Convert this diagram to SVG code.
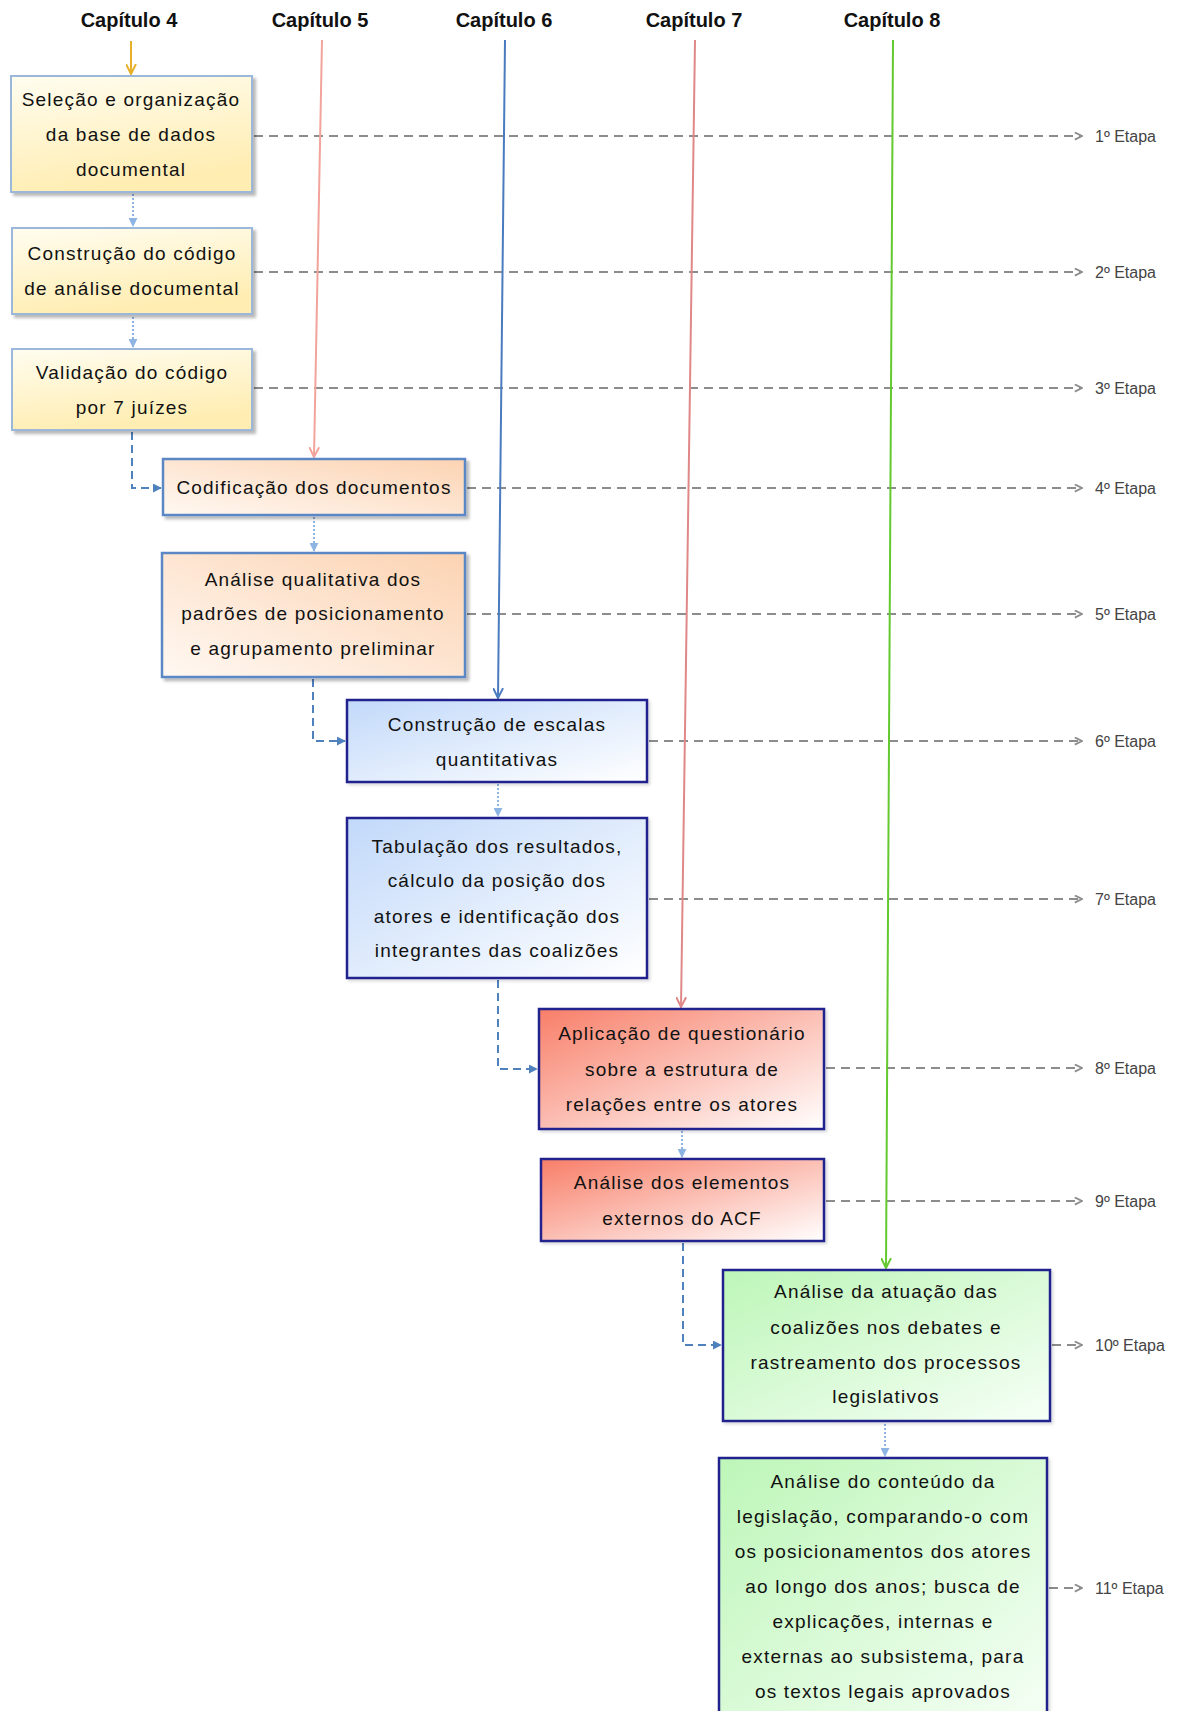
<svg xmlns="http://www.w3.org/2000/svg" width="1179" height="1711" viewBox="0 0 1179 1711">
  <style>
    .hdr { font-family: "Liberation Sans", Arial, sans-serif; font-size: 20px; font-weight: bold; fill: #111; text-anchor: middle; }
    .lbl { font-family: "Liberation Sans", Arial, sans-serif; font-size: 19px; letter-spacing: 1.2px; fill: #111; text-anchor: middle; }
    .etp { font-family: "Liberation Sans", Arial, sans-serif; font-size: 16px; fill: #444; }
    .box-y { fill: url(#gYellow); stroke: #9BB7DA; stroke-width: 2; filter: url(#shadow); }
    .box-p { fill: url(#gPeach); stroke: #5B87C5; stroke-width: 2.5; filter: url(#shadow); }
    .box-b { fill: url(#gBlue); stroke: #22248E; stroke-width: 2.5; filter: url(#shadowLight); }
    .box-r { fill: url(#gRed); stroke: #22248E; stroke-width: 2.5; filter: url(#shadowLight); }
    .box-g { fill: url(#gGreen); stroke: #22248E; stroke-width: 2.5; filter: url(#shadowLight); }
    .stage { fill: none; stroke: #8C8C8C; stroke-width: 2; stroke-dasharray: 9 6; marker-end: url(#chevGray); }
    .dot { fill: none; stroke: #8EB4E3; stroke-width: 2; stroke-dasharray: 2 2; marker-end: url(#triLight); }
    .elbow { fill: none; stroke: #4F81BD; stroke-width: 2; stroke-dasharray: 8 5; marker-end: url(#triBlue); }
    .chap { fill: none; stroke-width: 2; }
  </style>
  <defs>
    <linearGradient id="gYellow" x1="0" y1="0" x2="0.3" y2="1">
      <stop offset="0" stop-color="#FFFDF0"/>
      <stop offset="1" stop-color="#FFEDB2"/>
    </linearGradient>
    <linearGradient id="gPeach" x1="1" y1="0" x2="0" y2="1">
      <stop offset="0" stop-color="#FCD3B2"/>
      <stop offset="1" stop-color="#FFF8F2"/>
    </linearGradient>
    <linearGradient id="gBlue" x1="0" y1="0" x2="1" y2="1">
      <stop offset="0" stop-color="#C2D9FA"/>
      <stop offset="1" stop-color="#FFFFFF"/>
    </linearGradient>
    <linearGradient id="gRed" x1="0" y1="0" x2="1" y2="1">
      <stop offset="0" stop-color="#F87E68"/>
      <stop offset="1" stop-color="#FFFFFF"/>
    </linearGradient>
    <linearGradient id="gGreen" x1="0" y1="0" x2="1" y2="1">
      <stop offset="0" stop-color="#BDF6B8"/>
      <stop offset="1" stop-color="#F6FFF6"/>
    </linearGradient>
    <filter id="shadow" x="-10%" y="-10%" width="130%" height="130%">
      <feDropShadow dx="3" dy="3" stdDeviation="1.5" flood-color="#000" flood-opacity="0.28"/>
    </filter>
    <filter id="shadowLight" x="-10%" y="-10%" width="130%" height="130%">
      <feDropShadow dx="2" dy="2" stdDeviation="1.5" flood-color="#000" flood-opacity="0.15"/>
    </filter>
    <marker id="chevGold" viewBox="0 0 10 10" refX="9" refY="5" markerWidth="11" markerHeight="11" markerUnits="userSpaceOnUse" orient="auto">
      <path d="M0,0.5 L9,5 L0,9.5" fill="none" stroke="#E8B02A" stroke-width="1.8"/>
    </marker>
    <marker id="chevPink" viewBox="0 0 10 10" refX="9" refY="5" markerWidth="11" markerHeight="11" markerUnits="userSpaceOnUse" orient="auto">
      <path d="M0,0.5 L9,5 L0,9.5" fill="none" stroke="#F2A49C" stroke-width="1.8"/>
    </marker>
    <marker id="chevBlue" viewBox="0 0 10 10" refX="9" refY="5" markerWidth="11" markerHeight="11" markerUnits="userSpaceOnUse" orient="auto">
      <path d="M0,0.5 L9,5 L0,9.5" fill="none" stroke="#4A7BBE" stroke-width="1.8"/>
    </marker>
    <marker id="chevRose" viewBox="0 0 10 10" refX="9" refY="5" markerWidth="11" markerHeight="11" markerUnits="userSpaceOnUse" orient="auto">
      <path d="M0,0.5 L9,5 L0,9.5" fill="none" stroke="#E08888" stroke-width="1.8"/>
    </marker>
    <marker id="chevGreen" viewBox="0 0 10 10" refX="9" refY="5" markerWidth="11" markerHeight="11" markerUnits="userSpaceOnUse" orient="auto">
      <path d="M0,0.5 L9,5 L0,9.5" fill="none" stroke="#63C92F" stroke-width="1.8"/>
    </marker>
    <marker id="chevGray" viewBox="0 0 10 10" refX="9" refY="5" markerWidth="9" markerHeight="9" markerUnits="userSpaceOnUse" orient="auto">
      <path d="M1,1 L9,5 L1,9" fill="none" stroke="#8C8C8C" stroke-width="2"/>
    </marker>
    <marker id="triLight" viewBox="0 0 10 10" refX="9" refY="5" markerWidth="9" markerHeight="9" markerUnits="userSpaceOnUse" orient="auto">
      <path d="M0,0 L10,5 L0,10 Z" fill="#8EB4E3"/>
    </marker>
    <marker id="triBlue" viewBox="0 0 10 10" refX="9" refY="5" markerWidth="9" markerHeight="9" markerUnits="userSpaceOnUse" orient="auto">
      <path d="M0,0 L10,5 L0,10 Z" fill="#4F81BD"/>
    </marker>
  </defs>

  <rect width="1179" height="1711" fill="#FFFFFF"/>

  <!-- chapter headings -->
  <g id="headers">
    <text class="hdr" x="129" y="27">Capítulo 4</text>
    <text class="hdr" x="320" y="27">Capítulo 5</text>
    <text class="hdr" x="504" y="27">Capítulo 6</text>
    <text class="hdr" x="694" y="27">Capítulo 7</text>
    <text class="hdr" x="892" y="27">Capítulo 8</text>
  </g>

  <!-- connectors -->
  <g id="connectors">
    <!-- stage lines -->
    <line class="stage" x1="254" y1="136" x2="1082" y2="136"/>
    <line class="stage" x1="254" y1="272" x2="1082" y2="272"/>
    <line class="stage" x1="254" y1="388" x2="1082" y2="388"/>
    <line class="stage" x1="467" y1="488" x2="1082" y2="488"/>
    <line class="stage" x1="467" y1="614" x2="1082" y2="614"/>
    <line class="stage" x1="649" y1="741" x2="1082" y2="741"/>
    <line class="stage" x1="649" y1="899" x2="1082" y2="899"/>
    <line class="stage" x1="826" y1="1068" x2="1082" y2="1068"/>
    <line class="stage" x1="826" y1="1201" x2="1082" y2="1201"/>
    <line class="stage" x1="1052" y1="1345" x2="1082" y2="1345"/>
    <line class="stage" x1="1049" y1="1588" x2="1082" y2="1588"/>

    <!-- step to step -->
    <line class="dot" x1="133" y1="194" x2="133" y2="226"/>
    <line class="dot" x1="133" y1="317" x2="133" y2="347"/>
    <path class="elbow" d="M132,432 V488 H161"/>
    <line class="dot" x1="314" y1="517" x2="314" y2="551"/>
    <path class="elbow" d="M313,679 V741 H345"/>
    <line class="dot" x1="498" y1="784" x2="498" y2="816"/>
    <path class="elbow" d="M498,980 V1069 H537"/>
    <line class="dot" x1="682" y1="1131" x2="682" y2="1157"/>
    <path class="elbow" d="M683,1243 V1345 H721"/>
    <line class="dot" x1="885" y1="1424" x2="885" y2="1456"/>

    <!-- chapter lines -->
    <line class="chap" stroke="#E8B02A" x1="131" y1="41" x2="131" y2="74" marker-end="url(#chevGold)"/>
    <line class="chap" stroke="#F2A49C" x1="322" y1="40" x2="314" y2="457" marker-end="url(#chevPink)"/>
    <line class="chap" stroke="#4A7BBE" x1="505" y1="40" x2="498" y2="698" marker-end="url(#chevBlue)"/>
    <line class="chap" stroke="#E08888" x1="695" y1="40" x2="681" y2="1007" marker-end="url(#chevRose)"/>
    <line class="chap" stroke="#63C92F" x1="893" y1="40" x2="886" y2="1268" marker-end="url(#chevGreen)"/>
  </g>

  <!-- steps -->
  <g id="step1">
    <rect class="box-y" x="11" y="76" width="241" height="116"/>
    <text class="lbl" x="131" y="105.5">Seleção e organização</text>
    <text class="lbl" x="131" y="140.5">da base de dados</text>
    <text class="lbl" x="131" y="175.5">documental</text>
  </g>
  <g id="step2">
    <rect class="box-y" x="12" y="228" width="240" height="86"/>
    <text class="lbl" x="132" y="259.5">Construção do código</text>
    <text class="lbl" x="132" y="294.5">de análise documental</text>
  </g>
  <g id="step3">
    <rect class="box-y" x="12" y="349" width="240" height="81"/>
    <text class="lbl" x="132" y="378.5">Validação do código</text>
    <text class="lbl" x="132" y="413.5">por 7 juízes</text>
  </g>
  <g id="step4">
    <rect class="box-p" x="163" y="459" width="302" height="56"/>
    <text class="lbl" x="314" y="493.5">Codificação dos documentos</text>
  </g>
  <g id="step5">
    <rect class="box-p" x="162" y="553" width="303" height="124"/>
    <text class="lbl" x="313" y="585.5">Análise qualitativa dos</text>
    <text class="lbl" x="313" y="620">padrões de posicionamento</text>
    <text class="lbl" x="313" y="655">e agrupamento preliminar</text>
  </g>
  <g id="step6">
    <rect class="box-b" x="347" y="700" width="300" height="82"/>
    <text class="lbl" x="497" y="730.5">Construção de escalas</text>
    <text class="lbl" x="497" y="765.5">quantitativas</text>
  </g>
  <g id="step7">
    <rect class="box-b" x="347" y="818" width="300" height="160"/>
    <text class="lbl" x="497" y="852.5">Tabulação dos resultados,</text>
    <text class="lbl" x="497" y="886.5">cálculo da posição dos</text>
    <text class="lbl" x="497" y="922.5">atores e identificação dos</text>
    <text class="lbl" x="497" y="956.5">integrantes das coalizões</text>
  </g>
  <g id="step8">
    <rect class="box-r" x="539" y="1009" width="285" height="120"/>
    <text class="lbl" x="682" y="1039.5">Aplicação de questionário</text>
    <text class="lbl" x="682" y="1075.5">sobre a estrutura de</text>
    <text class="lbl" x="682" y="1110.5">relações entre os atores</text>
  </g>
  <g id="step9">
    <rect class="box-r" x="541" y="1159" width="283" height="82"/>
    <text class="lbl" x="682" y="1188.5">Análise dos elementos</text>
    <text class="lbl" x="682" y="1224.5">externos do ACF</text>
  </g>
  <g id="step10">
    <rect class="box-g" x="723" y="1270" width="327" height="151"/>
    <text class="lbl" x="886" y="1298">Análise da atuação das</text>
    <text class="lbl" x="886" y="1334">coalizões nos debates e</text>
    <text class="lbl" x="886" y="1369">rastreamento dos processos</text>
    <text class="lbl" x="886" y="1402.5">legislativos</text>
  </g>
  <g id="step11">
    <rect class="box-g" x="719" y="1458" width="328" height="270"/>
    <text class="lbl" x="883" y="1488">Análise do conteúdo da</text>
    <text class="lbl" x="883" y="1522.5">legislação, comparando-o com</text>
    <text class="lbl" x="883" y="1557.5">os posicionamentos dos atores</text>
    <text class="lbl" x="883" y="1592.5">ao longo dos anos; busca de</text>
    <text class="lbl" x="883" y="1627.5">explicações, internas e</text>
    <text class="lbl" x="883" y="1662.5">externas ao subsistema, para</text>
    <text class="lbl" x="883" y="1697.5">os textos legais aprovados</text>
  </g>

  <!-- stage labels -->
  <g id="stages">
    <text class="etp" x="1095" y="142">1º Etapa</text>
    <text class="etp" x="1095" y="278">2º Etapa</text>
    <text class="etp" x="1095" y="394">3º Etapa</text>
    <text class="etp" x="1095" y="494">4º Etapa</text>
    <text class="etp" x="1095" y="620">5º Etapa</text>
    <text class="etp" x="1095" y="747">6º Etapa</text>
    <text class="etp" x="1095" y="905">7º Etapa</text>
    <text class="etp" x="1095" y="1074">8º Etapa</text>
    <text class="etp" x="1095" y="1207">9º Etapa</text>
    <text class="etp" x="1095" y="1351">10º Etapa</text>
    <text class="etp" x="1095" y="1594">11º Etapa</text>
  </g>
</svg>
